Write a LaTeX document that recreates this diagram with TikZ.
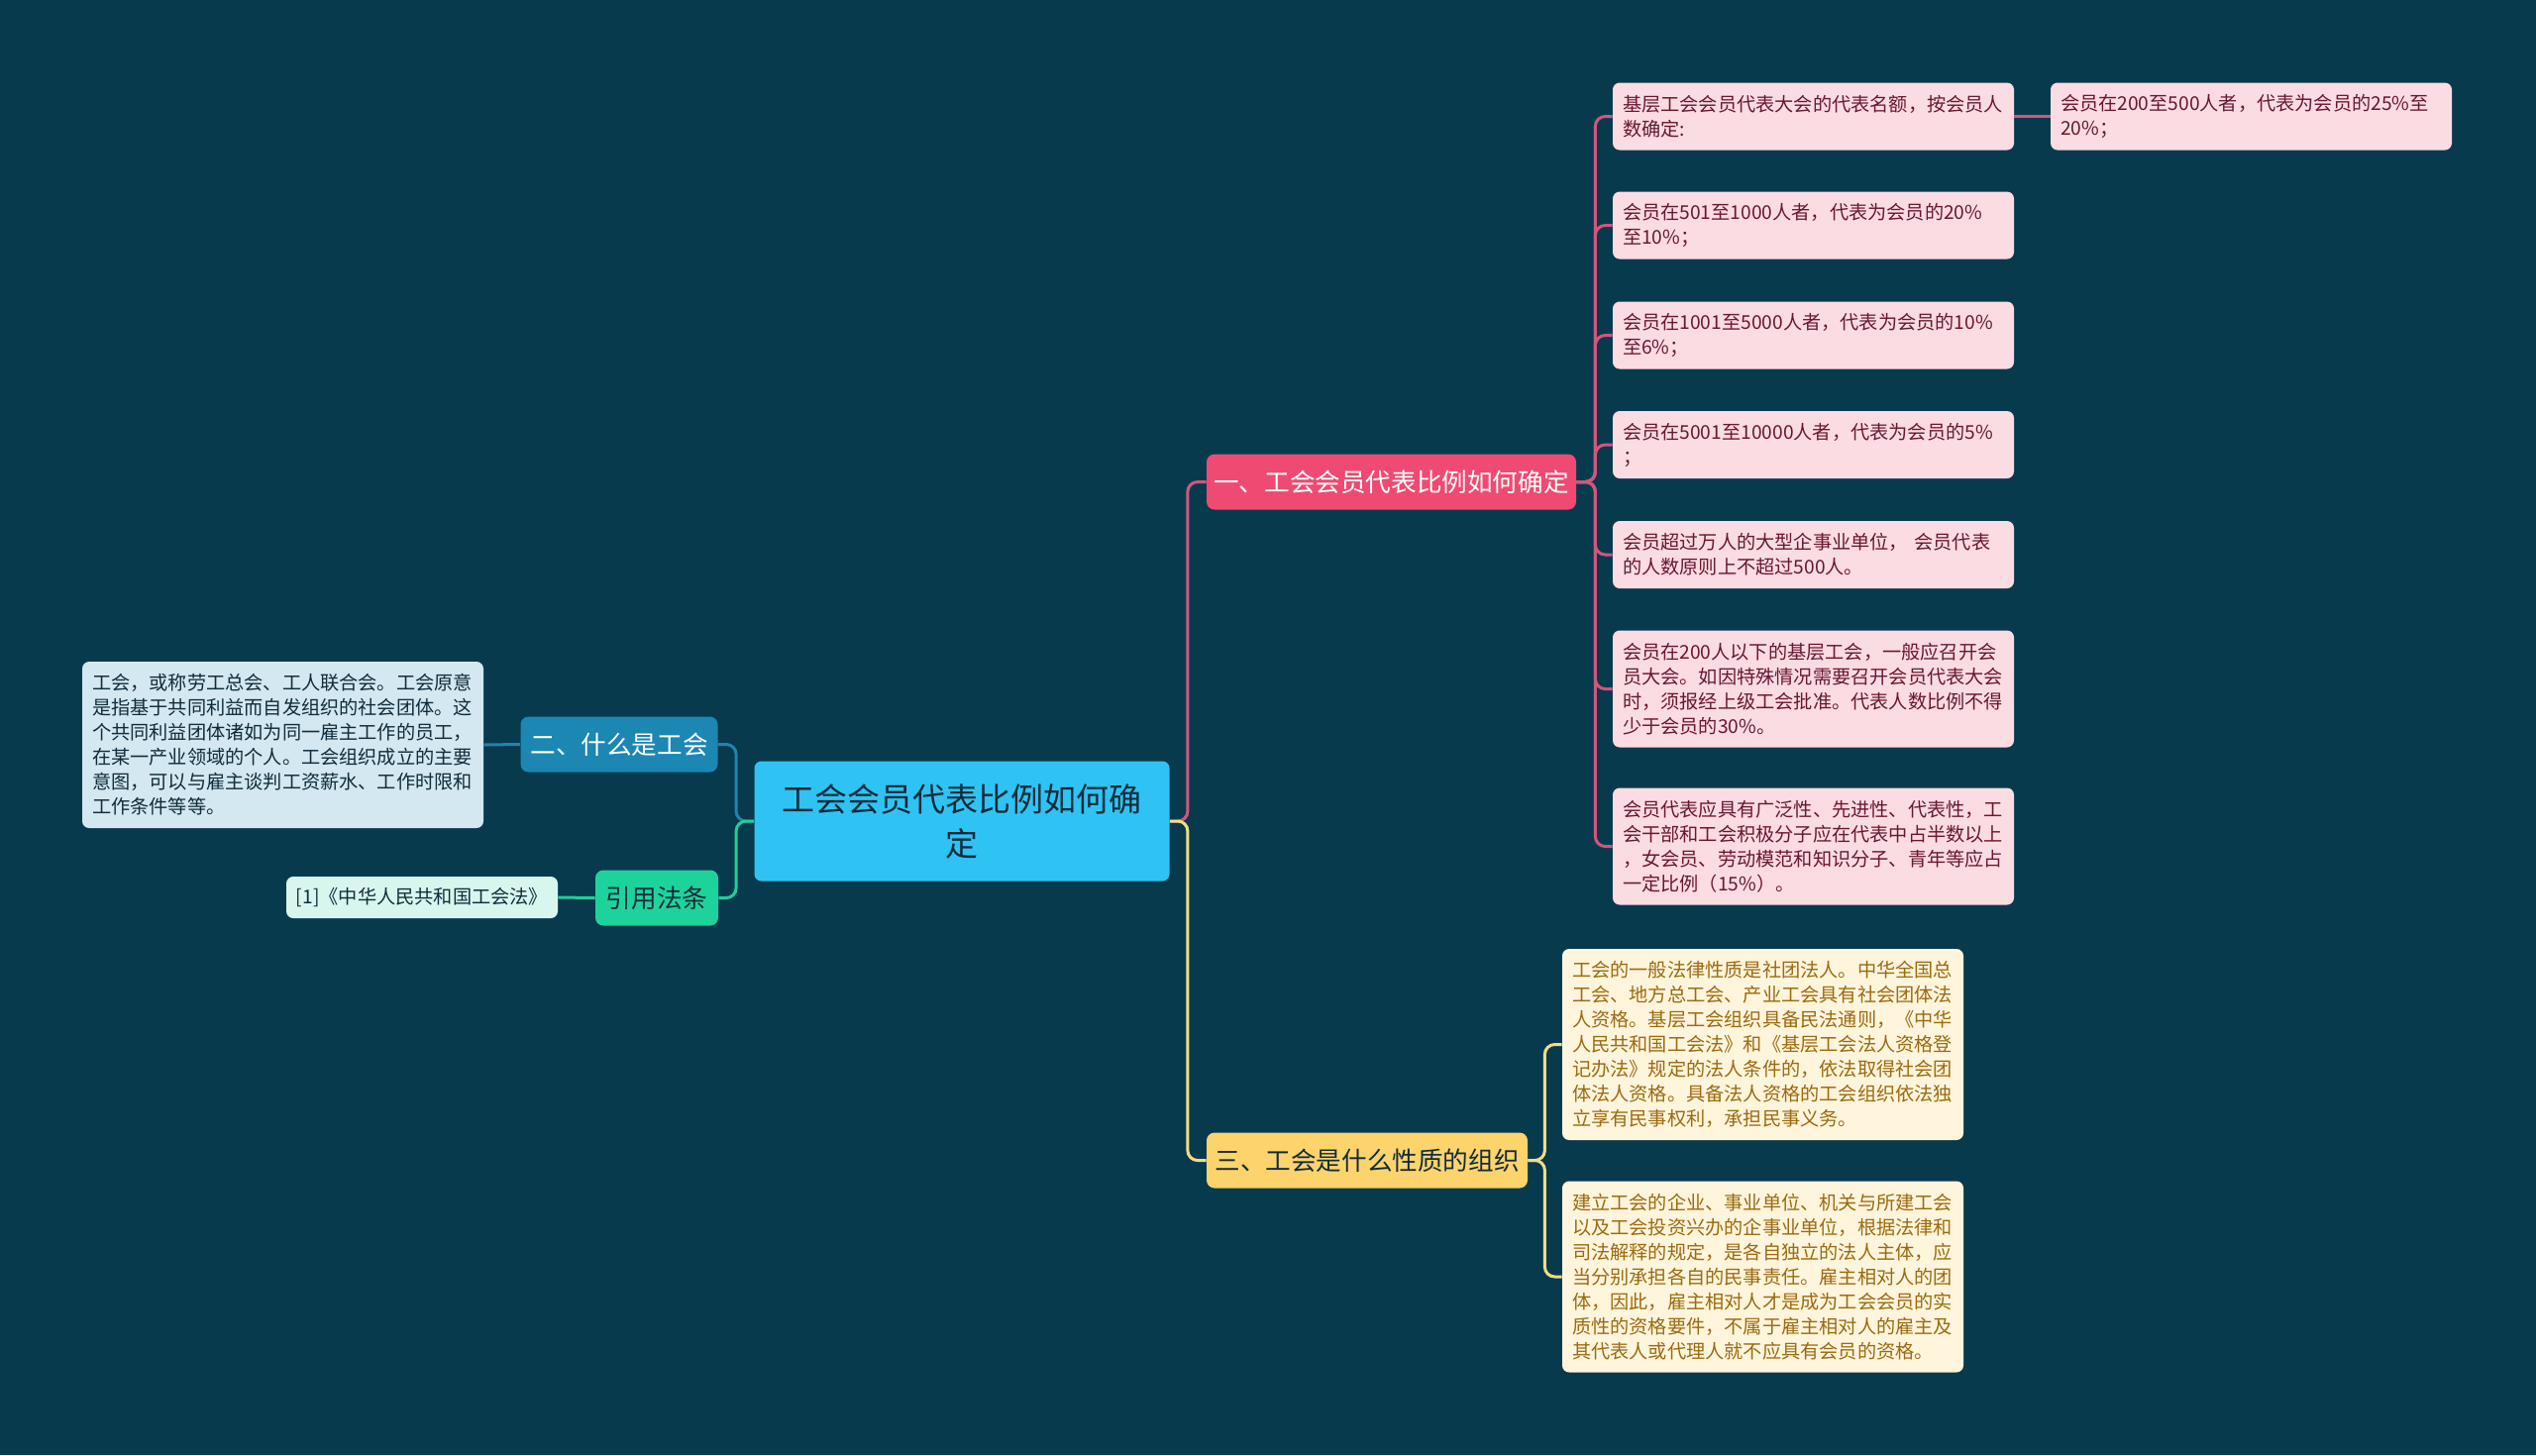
\documentclass[tikz,border=0pt]{standalone}
\usepackage{fontspec}
\setmainfont{Noto Sans CJK SC}
\usepackage{tikz}
\usetikzlibrary{positioning}
\definecolor{bgcol}{RGB}{8,58,78}
\definecolor{rootcol}{RGB}{47,195,243}
\definecolor{darktext}{RGB}{16,44,58}
\definecolor{pinkcol}{RGB}{238,74,114}
\definecolor{pinkleaf}{RGB}{252,220,227}
\definecolor{pinktext}{RGB}{106,23,49}
\definecolor{pinkline}{RGB}{210,86,125}
\definecolor{yelcol}{RGB}{253,211,107}
\definecolor{yelleaf}{RGB}{254,245,220}
\definecolor{yeltext}{RGB}{156,106,16}
\definecolor{yelline}{RGB}{244,220,132}
\definecolor{bluecol}{RGB}{28,135,179}
\definecolor{blueleaf}{RGB}{211,232,240}
\definecolor{blueline}{RGB}{34,131,174}
\definecolor{greencol}{RGB}{29,211,155}
\definecolor{greenleaf}{RGB}{216,246,238}
\definecolor{greenline}{RGB}{35,205,152}

\begin{document}
\begin{tikzpicture}[x=0.5pt,y=-0.5pt,
  root/.style={fill=rootcol,text=darktext,rounded corners=3.5pt,align=center,
    minimum width=209.5pt,minimum height=60.5pt,inner sep=0pt,
    font=\fontsize{16.5}{22.5}\selectfont},
  branch/.style={rounded corners=4pt,minimum height=28pt,inner sep=0pt,
    font=\fontsize{12.8}{15}\selectfont},
  leaf/.style={rounded corners=3.5pt,text width=192.5pt,align=left,
    inner xsep=5pt,inner ysep=0pt,font=\fontsize{9.6}{12.5}\selectfont},
  pleaf/.style={leaf,fill=pinkleaf,text=pinktext},
  yleaf/.style={leaf,fill=yelleaf,text=yeltext},
  link/.style={line width=1.5pt,rounded corners=5pt},
]
\useasboundingbox[fill=bgcol] (0,0) rectangle (2560,1469);

\node[root] (root) at (971,829) {工会会员代表比例如何确\\定};

\node[branch,fill=pinkcol,text=white,minimum width=186.5pt] (b1) at (1404.5,486.5) {一、工会会员代表比例如何确定};
\node[branch,fill=yelcol,text=darktext,minimum width=162pt] (b3) at (1380,1171.5) {三、工会是什么性质的组织};
\node[branch,fill=bluecol,text=white,minimum width=99.5pt] (b2) at (625,751.5) {二、什么是工会};
\node[branch,fill=greencol,text=darktext,minimum width=62pt] (bref) at (663,906.5) {引用法条};

% pink leaves
\node[pleaf,minimum height=34pt] (p1) at (1830.5,117.5) {基层工会会员代表大会的代表名额，按会员人\\数确定:};
\node[pleaf,minimum height=34pt] (pc) at (2272.5,117.5) {会员在200至500人者，代表为会员的25\%至\\20\%；};
\node[pleaf,minimum height=34pt] (p2) at (1830.5,227.5) {会员在501至1000人者，代表为会员的20\%\\至10\%；};
\node[pleaf,minimum height=34pt] (p3) at (1830.5,338.5) {会员在1001至5000人者，代表为会员的10\%\\至6\%；};
\node[pleaf,minimum height=34pt] (p4) at (1830.5,449) {会员在5001至10000人者，代表为会员的5\%\\；};
\node[pleaf,minimum height=34pt] (p5) at (1830.5,560) {会员超过万人的大型企事业单位， 会员代表\\的人数原则上不超过500人。};
\node[pleaf,minimum height=59pt] (p6) at (1830.5,695.5) {会员在200人以下的基层工会，一般应召开会\\员大会。如因特殊情况需要召开会员代表大会\\时，须报经上级工会批准。代表人数比例不得\\少于会员的30\%。};
\node[pleaf,minimum height=59pt] (p7) at (1830.5,854.5) {会员代表应具有广泛性、先进性、代表性，工\\会干部和工会积极分子应在代表中占半数以上\\，女会员、劳动模范和知识分子、青年等应占\\一定比例（15\%）。};

% yellow leaves
\node[yleaf,minimum height=96.5pt] (y1) at (1779.5,1054.5) {工会的一般法律性质是社团法人。中华全国总\\工会、地方总工会、产业工会具有社会团体法\\人资格。基层工会组织具备民法通则，《中华\\人民共和国工会法》和《基层工会法人资格登\\记办法》规定的法人条件的，依法取得社会团\\体法人资格。具备法人资格的工会组织依法独\\立享有民事权利，承担民事义务。};
\node[yleaf,minimum height=96.5pt] (y2) at (1779.5,1289) {建立工会的企业、事业单位、机关与所建工会\\以及工会投资兴办的企事业单位，根据法律和\\司法解释的规定，是各自独立的法人主体，应\\当分别承担各自的民事责任。雇主相对人的团\\体，因此，雇主相对人才是成为工会会员的实\\质性的资格要件，不属于雇主相对人的雇主及\\其代表人或代理人就不应具有会员的资格。};

% left side
\node[leaf,fill=blueleaf,text=darktext,minimum height=84pt] (bl) at (285.5,752) {工会，或称劳工总会、工人联合会。工会原意\\是指基于共同利益而自发组织的社会团体。这\\个共同利益团体诸如为同一雇主工作的员工，\\在某一产业领域的个人。工会组织成立的主要\\意图，可以与雇主谈判工资薪水、工作时限和\\工作条件等等。};
\node[fill=greenleaf,text=darktext,rounded corners=3.5pt,minimum width=137pt,minimum height=21pt,inner sep=0pt,
  font=\fontsize{9.6}{12.5}\selectfont] (gl) at (426,906) {[1]《中华人民共和国工会法》};

% connectors
\draw[link,draw=pinkline] (root.east) -- ++(18,0) |- (b1.west);
\draw[link,draw=yelline] (root.east) -- ++(18,0) |- (b3.west);
\draw[link,draw=blueline] (root.west) -- ++(-18,0) |- (b2.east);
\draw[link,draw=greenline] (root.west) -- ++(-18,0) |- (bref.east);
\foreach \p in {p1,p2,p3,p4,p5,p6,p7}
  \draw[link,draw=pinkline] (b1.east) -- ++(19,0) |- (\p.west);
\draw[link,draw=pinkline] (p1.east) -- (pc.west);
\foreach \p in {y1,y2}
  \draw[link,draw=yelline] (b3.east) -- ++(17,0) |- (\p.west);
\draw[link,draw=blueline] (b2.west) -- (bl.east);
\draw[link,draw=greenline] (bref.west) -- (gl.east);
\end{tikzpicture}
\end{document}
